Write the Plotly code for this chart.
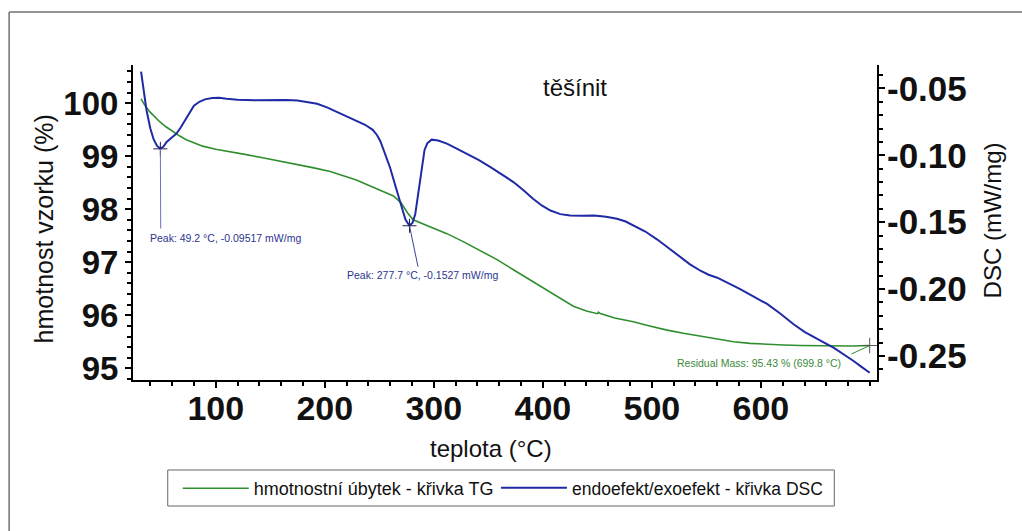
import plotly.graph_objects as go

# Temperature (°C) and DSC signal (mW/mg)
dsc_t = [31.5, 34, 36.5, 40, 43, 46, 49.2, 52, 55, 60, 64, 68, 72, 76, 80, 85, 90, 97,
         103, 110, 120, 135, 150, 165, 175, 185, 193, 202, 211, 220, 229, 237, 244, 248,
         251, 255, 260, 265, 270, 274, 277.7, 280.5, 283, 285.5, 287.5, 289.5, 291.5, 294,
         298, 304, 312, 321, 330, 341, 352, 362, 373, 382, 391, 399, 407, 416, 425, 436,
         447, 458, 468, 476, 483, 494, 505, 516, 526, 535, 545, 552, 560, 571, 581, 593,
         606, 618, 630, 640, 649, 658, 667, 676, 685, 692, 699.8]
dsc_v = [-0.0375, -0.0520, -0.0663, -0.0800, -0.0880, -0.0928, -0.09517, -0.0935, -0.0900,
         -0.0865, -0.0838, -0.0790, -0.0738, -0.0680, -0.0630, -0.0600, -0.0582, -0.0572,
         -0.0570, -0.0578, -0.0585, -0.0588, -0.0585, -0.0586, -0.0590, -0.0602, -0.0615,
         -0.0642, -0.0676, -0.0708, -0.0738, -0.0772, -0.0810, -0.0850, -0.0895, -0.0985,
         -0.1095, -0.1235, -0.1380, -0.1480, -0.1527, -0.1505, -0.1440, -0.1300, -0.1160,
         -0.1040, -0.0960, -0.0910, -0.0883, -0.0890, -0.0913, -0.0950, -0.0988, -0.1035,
         -0.1088, -0.1140, -0.1200, -0.1260, -0.1325, -0.1375, -0.1413, -0.1440, -0.1450,
         -0.1452, -0.1450, -0.1460, -0.1475, -0.1495, -0.1525, -0.1570, -0.1630, -0.1700,
         -0.1760, -0.1815, -0.1865, -0.1893, -0.1915, -0.1958, -0.2000, -0.2055, -0.2113,
         -0.2185, -0.2263, -0.2320, -0.2363, -0.2400, -0.2440, -0.2488, -0.2538, -0.2580,
         -0.2626]

# Temperature (°C) and sample mass (%)
tg_t = [31.5, 35, 39.4, 44, 48.6, 54, 60.8, 67, 73, 80, 88, 100, 113, 128, 143, 158, 174,
        190, 205, 218, 229, 239, 248, 256, 263, 270, 276, 281, 288, 297, 312, 327, 343, 358,
        373, 388, 404, 416, 428, 440, 450, 451, 452, 466, 483, 498, 514, 529, 545, 560, 575,
        590, 606, 621, 636, 652, 667, 683, 699.8]
tg_v = [100.08, 99.96, 99.84, 99.74, 99.65, 99.56, 99.46, 99.38, 99.31, 99.25, 99.19, 99.13,
        99.09, 99.03, 98.97, 98.91, 98.85, 98.78, 98.71, 98.63, 98.55, 98.46, 98.38, 98.31,
        98.25, 98.12, 97.93, 97.80, 97.74, 97.67, 97.54, 97.39, 97.22, 97.05, 96.86, 96.67,
        96.48, 96.32, 96.17, 96.08, 96.03, 96.06, 96.04, 95.95, 95.88, 95.80, 95.72, 95.66,
        95.60, 95.55, 95.50, 95.47, 95.45, 95.44, 95.43, 95.425, 95.42, 95.42, 95.43]

# Evaluated points
peak_t = [49.2, 277.7]
peak_v = [-0.09517, -0.1527]
residual_t = 699.8
residual_v = 95.43

x_ticks = [100, 200, 300, 400, 500, 600]
y_ticks = [95, 96, 97, 98, 99, 100]
y2_ticks = [-0.25, -0.20, -0.15, -0.10, -0.05]
y2_labels = ["%.2f" % v for v in y2_ticks]  # plain hyphen minus

FONT = "Liberation Sans, Arial, sans-serif"
GREEN = "#2f8f2f"
BLUE = "#1f2aa5"

fig = go.Figure()

fig.add_trace(go.Scatter(
    x=tg_t, y=tg_v, mode="lines", name="hmotnostní úbytek - křivka TG",
    line=dict(color=GREEN, width=1.6), yaxis="y", legend="legend"))
fig.add_trace(go.Scatter(
    x=dsc_t, y=dsc_v, mode="lines", name="endoefekt/exoefekt - křivka DSC",
    line=dict(color=BLUE, width=2), yaxis="y2", legend="legend2"))

# peak markers and residual-mass marker
fig.add_trace(go.Scatter(
    x=peak_t, y=peak_v, mode="markers", yaxis="y2", showlegend=False, hoverinfo="skip",
    marker=dict(symbol="cross-thin", size=10, line=dict(color="#222244", width=1))))
fig.add_trace(go.Scatter(
    x=[residual_t], y=[residual_v], mode="markers", yaxis="y", showlegend=False,
    hoverinfo="skip",
    marker=dict(symbol="cross-thin", size=11, line=dict(color="#555555", width=1))))

# leader lines
fig.add_shape(type="line", xref="x", yref="y2", x0=peak_t[0], y0=peak_v[0],
              x1=peak_t[0] + 0.3, y1=-0.1548, line=dict(color="#6a74c0", width=1))
fig.add_shape(type="line", xref="x", yref="y2", x0=peak_t[1], y0=peak_v[1],
              x1=285.5, y1=-0.1833, line=dict(color="#3a4490", width=1))
fig.add_shape(type="line", xref="x", yref="y", x0=residual_t, y0=residual_v,
              x1=683, y1=95.27, line=dict(color=GREEN, width=1))

# outer frame (top and left edges)
fig.add_shape(type="line", xref="paper", yref="paper", x0=-0.1665, y0=1.168,
              x1=1.25, y1=1.168, line=dict(color="#707070", width=1.5))
fig.add_shape(type="line", xref="paper", yref="paper", x0=-0.1665, y0=1.168,
              x1=-0.1665, y1=-0.55, line=dict(color="#707070", width=1.5))

# common box around both legend entries
fig.add_shape(type="rect", xref="paper", yref="paper", x0=0.0467, x1=0.9426,
              y0=-0.400, y1=-0.2857, line=dict(color="#666666", width=1),
              fillcolor="rgba(0,0,0,0)")

ann_font_blue = dict(family=FONT, size=10.5, color="#2b3590")
title_font = dict(family=FONT, size=24, color="#111111")
annotations = [
    dict(x=37.7, y=-0.1615, xref="x", yref="y2", xanchor="left", yanchor="middle",
         text="Peak: %.1f °C, %.5f mW/mg" % (peak_t[0], peak_v[0]), showarrow=False,
         font=ann_font_blue),
    dict(x=218.5, y=-0.1893, xref="x", yref="y2", xanchor="left", yanchor="middle",
         text="Peak: %.1f °C, %.4f mW/mg" % (peak_t[1], peak_v[1]), showarrow=False,
         font=ann_font_blue),
    dict(x=675.6, y=95.10, xref="x", yref="y", xanchor="right", yanchor="middle",
         text="Residual Mass: %.2f %% (%.1f °C)" % (residual_v, residual_t),
         showarrow=False, font=dict(family=FONT, size=10.5, color="#3a8a3a")),
    dict(x=0.594, y=0.927, xref="paper", yref="paper", xanchor="center", yanchor="middle",
         text="těšínit", showarrow=False, font=title_font),
    dict(x=-0.1201, y=0.48, xref="paper", yref="paper", xanchor="center",
         yanchor="middle", text="hmotnost vzorku (%)", textangle=-90, showarrow=False,
         font=dict(family=FONT, size=25, color="#111111")),
    dict(x=1.1565, y=0.508, xref="paper", yref="paper", xanchor="center", yanchor="middle",
         text="DSC (mW/mg)", textangle=-90, showarrow=False, font=title_font),
    dict(x=0.481, y=-0.216, xref="paper", yref="paper", xanchor="center", yanchor="middle",
         text="teplota (°C)", showarrow=False, font=title_font),
]


def tfont(size):
    return dict(family=FONT, size=size, color="#111111", weight="bold")


def legend_at(xpos, size):
    return dict(orientation="h", x=xpos, y=-0.2857, xanchor="left", yanchor="top",
                borderwidth=0, bgcolor="rgba(0,0,0,0)",
                font=dict(family=FONT, size=size, color="#111111"),
                itemwidth=66, indentation=10, tracegroupgap=0)


fig.update_layout(
    width=1022, height=531,
    margin=dict(l=133, r=145, t=65, b=151),
    paper_bgcolor="white", plot_bgcolor="white",
    showlegend=True,
    legend=legend_at(0.0467, 18),
    legend2=legend_at(0.4744, 17.5),
    annotations=annotations,
    xaxis=dict(range=[24.1, 706.5], tickvals=x_ticks, ticks="outside", ticklen=6,
               tickwidth=1.5, tickcolor="black", showline=True, linecolor="black",
               linewidth=2, showgrid=False, zeroline=False, tickfont=tfont(34),
               ticklabelstandoff=-9,
               minor=dict(dtick=20, tick0=0, ticks="outside", ticklen=4, tickcolor="black",
                          showgrid=False)),
    yaxis=dict(range=[94.78, 100.72], tickvals=y_ticks, ticks="outside", ticklen=6,
               tickwidth=1.5, tickcolor="black", showline=True, linecolor="black",
               linewidth=2, showgrid=False, zeroline=False, tickfont=tfont(33),
               minor=dict(dtick=0.2, tick0=0, ticks="outside", ticklen=4, tickcolor="black",
                          showgrid=False)),
    yaxis2=dict(range=[-0.268, -0.0325], tickvals=y2_ticks, ticktext=y2_labels,
                overlaying="y", side="right", ticks="outside", ticklen=6, tickwidth=1.5,
                tickcolor="black", showline=True, linecolor="black", linewidth=2,
                showgrid=False, zeroline=False, tickfont=tfont(35),
                ticklabelstandoff=-5,
                minor=dict(dtick=0.01, tick0=0, ticks="outside", ticklen=4,
                           tickcolor="black", showgrid=False)),
)

fig.write_html("out.html")
